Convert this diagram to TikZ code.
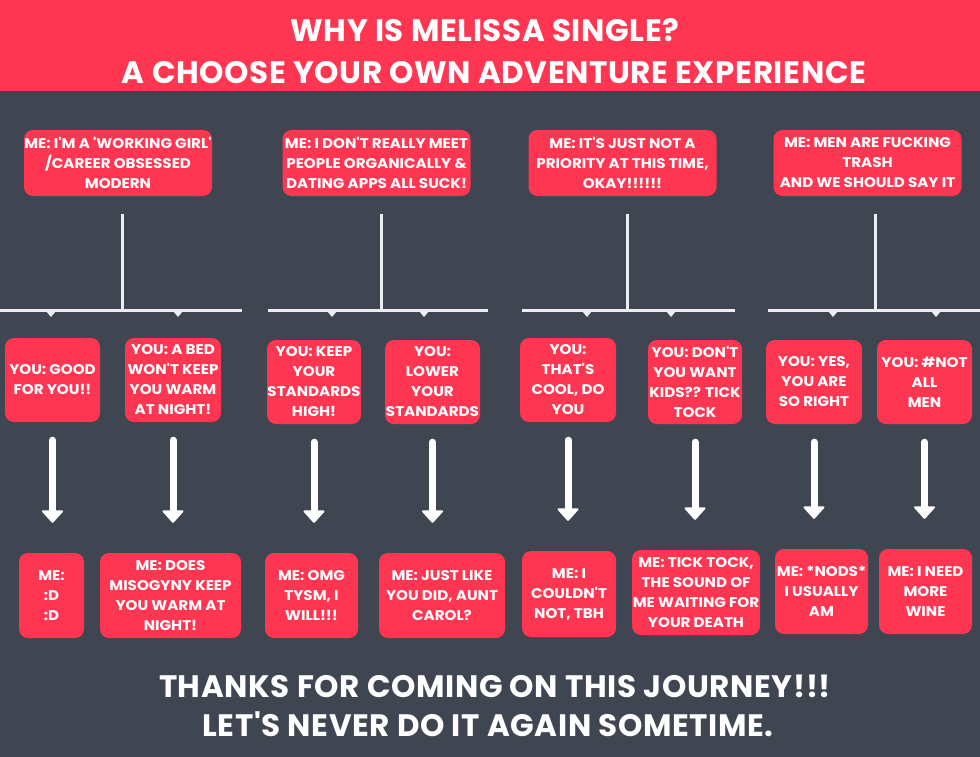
\documentclass[tikz,border=0pt]{standalone}
\usepackage{fontspec}
\usepackage{tikz}
\usetikzlibrary{arrows.meta,calc,positioning}
\newfontfamily\headfont{Poppins}[Ligatures=TeXOff, LetterSpace=2]
\newfontfamily\boxfont{Poppins}[FakeStretch=1.08, Ligatures=TeXOff]
\definecolor{melred}{RGB}{255,54,82}
\definecolor{slate}{RGB}{64,69,82}
\definecolor{chalk}{RGB}{236,238,244}
\tikzset{msg/.style={rectangle, rounded corners=9pt, fill=melred, text=white, align=center, inner sep=0pt,
    font=\boxfont\bfseries\fontsize{14}{20}\selectfont}}
\tikzset{topmsg/.style={msg, minimum width=188pt, minimum height=66pt}}
\tikzset{head/.style={text=white, font=\headfont\bfseries\fontsize{31}{31}\selectfont, inner sep=0pt}}
\tikzset{foot/.style={head, font=\headfont\bfseries\fontsize{31}{31}\selectfont}}
\tikzset{fork/.style={draw=chalk, line width=3pt}}
\tikzset{notch/.style={fill=chalk}}
\tikzset{bigarrow/.style={draw=white, line width=7pt, line cap=round, -{Triangle[width=23pt,length=13pt,round,line width=2pt]}, shorten <=18pt, shorten >=30pt}}

\begin{document}
\begin{tikzpicture}[x=1pt,y=-1pt]
  \useasboundingbox (0,0) rectangle (980,757);
  \fill[slate] (0,0) rectangle (980,757);
  \fill[melred] (0,0) rectangle (980,91);
  \node[head] (t1) at (485,30) {WHY IS MELISSA SINGLE?};
  \node[head] (t2) at (494,73) {A CHOOSE YOUR OWN ADVENTURE EXPERIENCE};

  \node[topmsg] (m1) at (118,163) {ME: I'M A 'WORKING GIRL'\\/CAREER OBSESSED\\MODERN};
  \node[topmsg] (m2) at (376.5,163) {ME: I DON'T REALLY MEET\\PEOPLE ORGANICALLY \&\\DATING APPS ALL SUCK!};
  \node[topmsg] (m3) at (622.5,163) {ME: IT'S JUST NOT A\\PRIORITY AT THIS TIME,\\OKAY!!!!!!};
  \node[topmsg] (m4) at (867.5,163) {ME: MEN ARE FUCKING\\TRASH\\AND WE SHOULD SAY IT};

  \node[msg, minimum width=95pt, minimum height=84pt] (y1) at (52.5,380) {YOU: GOOD\\FOR YOU!!};
  \node[msg, minimum width=96pt, minimum height=84pt] (y2) at (173,380) {YOU: A BED\\WON'T KEEP\\YOU WARM\\AT NIGHT!};
  \node[msg, minimum width=94pt, minimum height=84pt] (y3) at (314,382) {YOU: KEEP\\YOUR\\STANDARDS\\HIGH!};
  \node[msg, minimum width=95pt, minimum height=84pt] (y4) at (432.5,382) {YOU:\\LOWER\\YOUR\\STANDARDS};
  \node[msg, minimum width=96pt, minimum height=84pt] (y5) at (568,380) {YOU:\\THAT'S\\COOL, DO\\YOU};
  \node[msg, minimum width=94pt, minimum height=84pt] (y6) at (695,382) {YOU: DON'T\\YOU WANT\\KIDS?? TICK\\TOCK};
  \node[msg, minimum width=96pt, minimum height=84pt] (y7) at (814,382) {YOU: YES,\\YOU ARE\\SO RIGHT};
  \node[msg, minimum width=95pt, minimum height=84pt] (y8) at (924.5,382) {YOU: \#NOT\\ALL\\MEN};

  \node[msg, minimum width=65pt, minimum height=85pt] (r1) at (51.5,595.5) {ME:\\:D\\:D};
  \node[msg, minimum width=141pt, minimum height=85pt] (r2) at (170.5,595.5) {ME: DOES\\MISOGYNY KEEP\\YOU WARM AT\\NIGHT!};
  \node[msg, minimum width=93pt, minimum height=85pt] (r3) at (311.5,595.5) {ME: OMG\\TYSM, I\\WILL!!!};
  \node[msg, minimum width=126pt, minimum height=85pt] (r4) at (442,595.5) {ME: JUST LIKE\\YOU DID, AUNT\\CAROL?};
  \node[msg, minimum width=94pt, minimum height=86pt] (r5) at (569,594) {ME: I\\COULDN'T\\NOT, TBH};
  \node[msg, minimum width=128pt, minimum height=85pt] (r6) at (696,592.5) {ME: TICK TOCK,\\THE SOUND OF\\ME WAITING FOR\\YOUR DEATH};
  \node[msg, minimum width=93pt, minimum height=85pt] (r7) at (821.5,591.5) {ME: *NODS*\\I USUALLY\\AM};
  \node[msg, minimum width=93pt, minimum height=85pt] (r8) at (925.5,591.5) {ME: I NEED\\MORE\\WINE};

  \coordinate (s1) at (122,214);
  \coordinate (s2) at (381,214);
  \coordinate (s3) at (627,214);
  \coordinate (s4) at (875,214);
  \coordinate (h) at (0,310);
  \draw[fork] (s1) -- (s1 |- h) (0,310) -- (242,310);
  \draw[fork] (s2) -- (s2 |- h) (268,310) -- (488,310);
  \draw[fork] (s3) -- (s3 |- h) (522,310) -- (735,310);
  \draw[fork] (s4) -- (s4 |- h) (768,310) -- (980,310);
  \foreach \x in {51,178,332,424,587,671,833,936}
    \fill[notch] (\x,311) ++(-5,0) -- ++(10,0) -- ++(-5,6) -- cycle;

  \foreach \n in {1,...,8}
    \draw[bigarrow] (y\n) -- (y\n.south |- r\n.north);

  \node[foot] (f1) at (495,686) {THANKS FOR COMING ON THIS JOURNEY!!!};
  \node[foot] (f2) at (488,724) {LET'S NEVER DO IT AGAIN SOMETIME.};
\end{tikzpicture}
\end{document}
